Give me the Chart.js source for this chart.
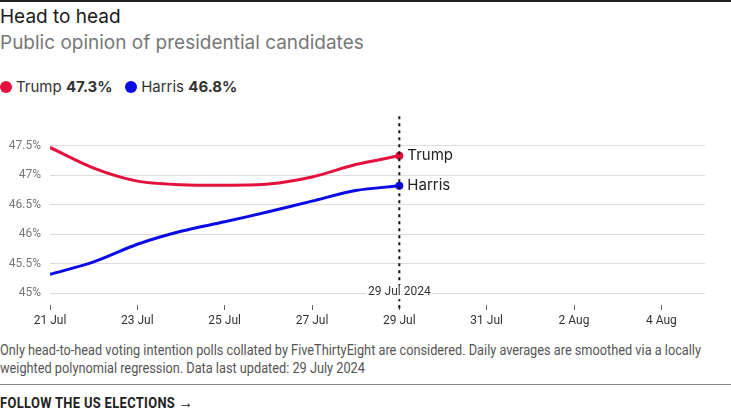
<!DOCTYPE html>
<html>
<head>
<title>Head to head</title>
<script src="https://cdn.jsdelivr.net/npm/chart.js"></script>
<style>
    html, body { margin: 0; padding: 0; background: #fff; }
    body { width: 731px; height: 411px; position: relative; overflow: hidden; font-family: Inter, "Noto Sans", sans-serif; }
    .topline { position: absolute; left: 0; top: 0; width: 731px; height: 2px; background: #222; }
    .title { position: absolute; left: 0; top: 5px; font-size: 19px; color: #1a1a1a; }
    .subtitle { position: absolute; left: 0; top: 31px; font-size: 19px; color: #777; }
    .legend { position: absolute; left: 0; top: 77px; font-size: 15px; color: #333; white-space: nowrap; }
    .legend span.dot { display: inline-block; width: 12px; height: 12px; border-radius: 50%; vertical-align: -1px; margin-right: 4px; }
    .legend b { font-weight: 700; }
    #wrap { position: absolute; left: 0; top: 100px; width: 731px; height: 240px; }
    .note { position: absolute; left: 0; top: 341px; width: 790px; font-family: Roboto, sans-serif; font-size: 14px; line-height: 18px; color: #555; transform: scaleX(0.91); transform-origin: left top; }
    .footline { position: absolute; left: 0; top: 384px; width: 731px; height: 1px; background: #888; }
    .follow { position: absolute; left: 0; top: 392px; font-family: Roboto, sans-serif; font-weight: 700; font-size: 15px; letter-spacing: 0.4px; color: #222; transform: scaleX(0.86); transform-origin: left top; white-space: nowrap; }
    .follow .arr { font-weight: 400; font-size: 17px; margin-left: 4px; }
</style>
</head>
<body>
<div class="topline"></div>
<div class="title">Head to head</div>
<div class="subtitle">Public opinion of presidential candidates</div>
<div class="legend"><span class="dot" style="background:#e3113c"></span>Trump <b>47.3%</b>&nbsp;&nbsp; <span class="dot" style="background:#0a0ae6"></span>Harris <b>46.8%</b></div>
<div id="wrap"><canvas id="chart"></canvas></div>
<div class="note">Only head-to-head voting intention polls collated by FiveThirtyEight are considered. Daily averages are smoothed via a locally weighted polynomial regression. Data last updated: 29 July 2024</div>
<div class="footline"></div>
<div class="follow">FOLLOW THE US ELECTIONS<span class="arr">&rarr;</span></div>

<script>
    // days since 21 Jul
    const days = [0, 1, 2, 3, 4, 5, 6, 7, 8];
    const trump = [47.47, 47.12, 46.90, 46.84, 46.83, 46.85, 46.97, 47.18, 47.33];
    const harris = [45.32, 45.53, 45.83, 46.05, 46.21, 46.38, 46.56, 46.74, 46.82];
    const xTickLabels = ['21 Jul', '23 Jul', '25 Jul', '27 Jul', '29 Jul', '31 Jul', '2 Aug', '4 Aug'];
    const yTicks = [45, 45.5, 46, 46.5, 47, 47.5];
    const lastDay = 8;
    const lastLabel = '29 Jul 2024';

    const tickFont = { family: 'Roboto, sans-serif', size: 12 };

    const endLabels = {
        id: 'endLabels',
        afterDatasetsDraw(chart) {
            const c = chart.ctx;
            const xs = chart.scales.x, ys = chart.scales.y;
            const area = chart.chartArea;
            const x = xs.getPixelForValue(lastDay);
            c.save();
            // dotted marker line
            c.strokeStyle = '#111';
            c.lineWidth = 2;
            c.setLineDash([3, 4]);
            c.beginPath();
            c.moveTo(x, area.top);
            c.lineTo(x, area.bottom + 6);
            c.stroke();
            c.setLineDash([]);
            // date label
            c.font = '12px ' + tickFont.family;
            const w = c.measureText(lastLabel).width;
            const ly = ys.getPixelForValue(45);
            c.fillStyle = '#fff';
            c.fillRect(x - w / 2 - 2, ly - 8, w + 4, 14);
            c.fillStyle = '#333';
            c.textAlign = 'center';
            c.textBaseline = 'middle';
            c.fillText(lastLabel, x, ly - 1);
            // series names
            c.font = '15px Inter, "Noto Sans", sans-serif';
            c.textAlign = 'left';
            c.fillStyle = '#222';
            chart.data.datasets.forEach((ds, i) => {
                const v = ds.data[ds.data.length - 1].y;
                c.fillText(ds.label, x + 8, ys.getPixelForValue(v));
            });
            c.restore();
        }
    };

    function series(values) {
        return values.map((v, i) => ({ x: days[i], y: v }));
    }

    const lastOnly = (ctx) => ctx.dataIndex === days.length - 1 ? 4 : 0;

    new Chart(document.getElementById('chart'), {
        type: 'line',
        data: {
            datasets: [
                {
                    label: 'Trump',
                    data: series(trump),
                    borderColor: '#e3113c',
                    backgroundColor: '#e3113c',
                    borderWidth: 3,
                    tension: 0.3,
                    pointRadius: lastOnly,
                    pointBorderWidth: 0
                },
                {
                    label: 'Harris',
                    data: series(harris),
                    borderColor: '#0a0ae6',
                    backgroundColor: '#0a0ae6',
                    borderWidth: 3,
                    tension: 0.3,
                    pointRadius: lastOnly,
                    pointBorderWidth: 0
                }
            ]
        },
        plugins: [endLabels],
        options: {
            responsive: true,
            maintainAspectRatio: false,
            animation: false,
            layout: { padding: { top: 15, right: 26, left: 0, bottom: 0 } },
            plugins: { legend: { display: false }, tooltip: { enabled: false } },
            scales: {
                x: {
                    type: 'linear',
                    min: 0,
                    max: 15,
                    afterBuildTicks: (scale) => { scale.ticks = xTickLabels.map((l, i) => ({ value: i * 2 })); },
                    ticks: {
                        color: '#333',
                        font: tickFont,
                        padding: 4,
                        maxRotation: 0,
                        autoSkip: false,
                        callback: (v) => xTickLabels[v / 2]
                    },
                    grid: { drawOnChartArea: false, drawTicks: true, tickLength: 5, color: '#666' },
                    border: { display: false },
                    afterFit: (scale) => { scale.height = 35; }
                },
                y: {
                    min: 44.8,
                    max: 48.0,
                    afterBuildTicks: (scale) => { scale.ticks = yTicks.map(v => ({ value: v })); },
                    ticks: {
                        color: '#777',
                        font: tickFont,
                        padding: 9,
                        callback: (v) => v + '%'
                    },
                    grid: { color: '#dddddd', drawTicks: false },
                    border: { display: false },
                    afterFit: (scale) => { scale.width = 50; }
                }
            }
        }
    });
</script>
</body>
</html>
